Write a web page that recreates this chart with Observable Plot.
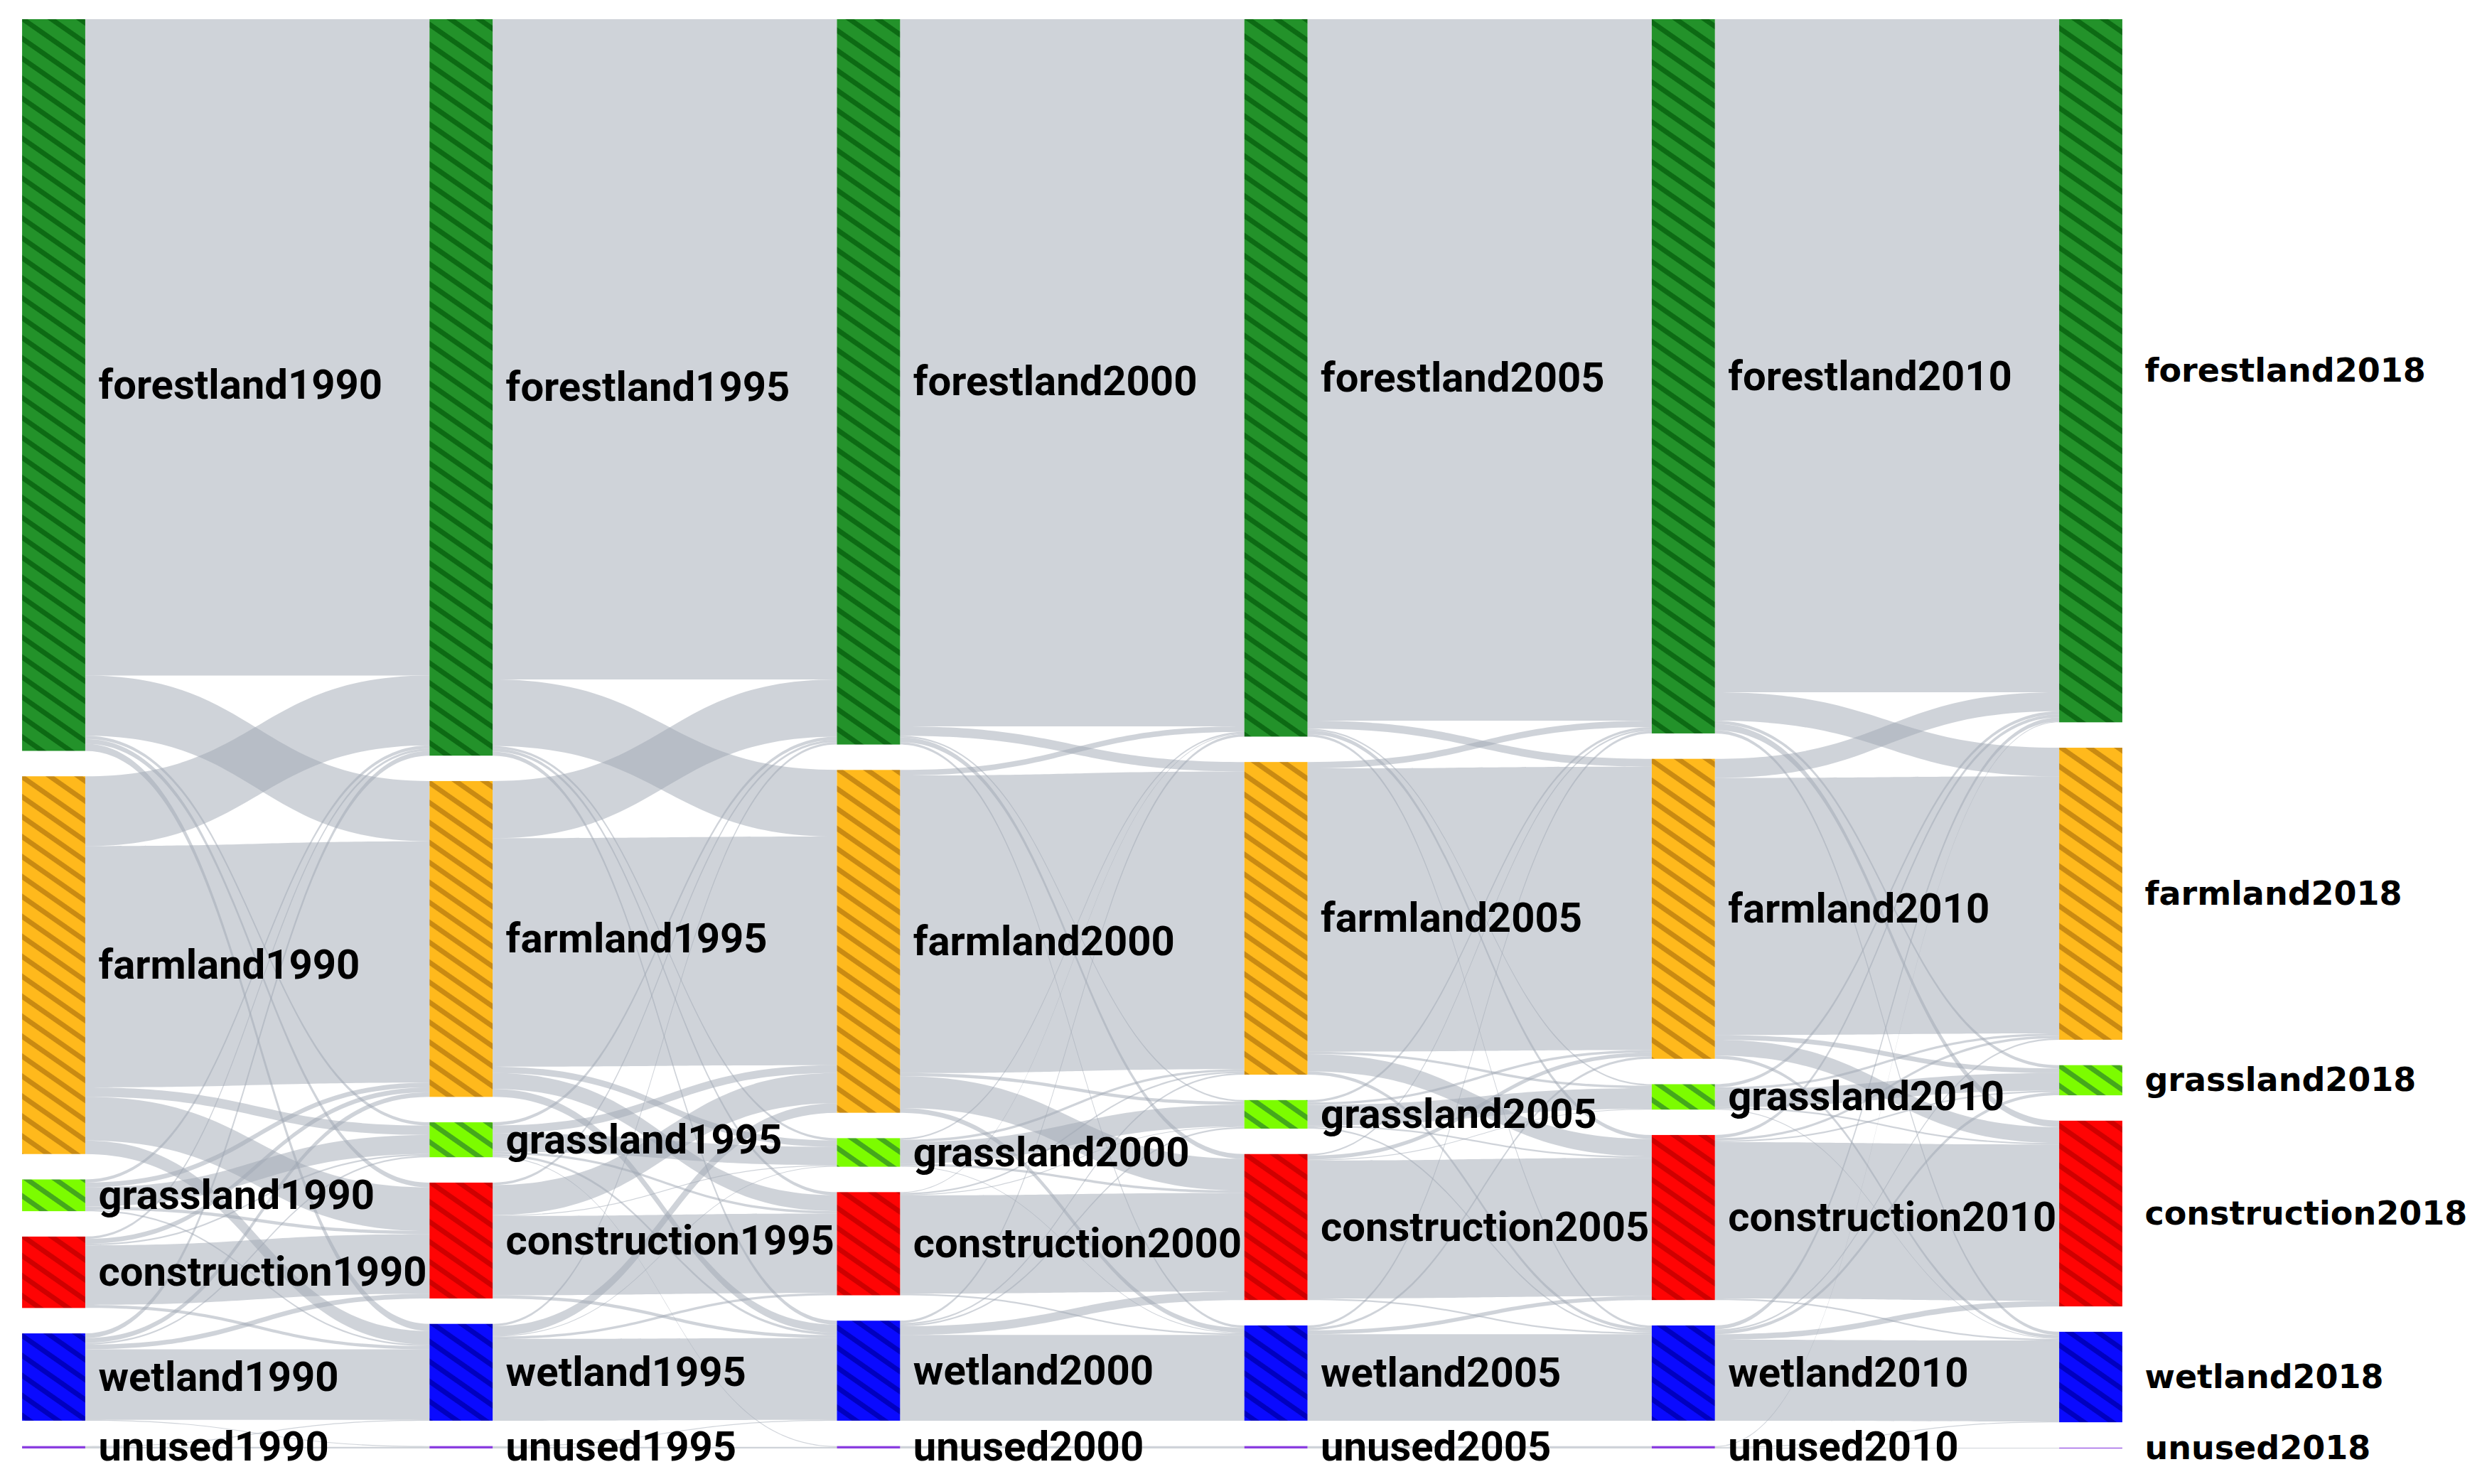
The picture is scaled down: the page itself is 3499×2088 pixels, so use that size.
<!DOCTYPE html>
<html>
<head>
<meta charset="utf-8">
<script src="https://cdn.jsdelivr.net/npm/d3@7"></script>
<script src="https://cdn.jsdelivr.net/npm/@observablehq/plot@0.6"></script>
<style>html,body{margin:0;padding:0;background:#fff;}</style>
</head>
<body>
<div id="chart"></div>
<script>
// ---- data (land-use transfer, rows = source class, columns = target class) ----
const categories = ["forestland", "farmland", "grassland", "construction", "wetland", "unused"];
const years = ["1990", "1995", "2000", "2005", "2010", "2018"];

const flows1990to1995 = [
  [4135, 380, 20, 30, 45, 0],
  [440, 1520, 60, 275, 85, 0],
  [20, 30, 120, 20, 10, 0],
  [15, 30, 10, 375, 20, 0],
  [30, 30, 10, 30, 445, 5],
  [0, 0, 0, 0, 5, 10]
];
const flows1995to2000 = [
  [4160, 420, 15, 20, 25, 0],
  [360, 1440, 40, 100, 50, 0],
  [20, 50, 115, 15, 15, 5],
  [15, 190, 5, 500, 20, 0],
  [15, 60, 5, 15, 515, 0],
  [0, 0, 0, 0, 5, 10]
];
const flows2000to2005 = [
  [4455, 60, 10, 30, 15, 0],
  [35, 1875, 20, 200, 30, 0],
  [10, 15, 135, 15, 5, 0],
  [5, 10, 5, 620, 10, 0],
  [15, 10, 10, 55, 540, 0],
  [0, 0, 0, 0, 0, 15]
];
const flows2005to2010 = [
  [4420, 50, 10, 25, 15, 0],
  [40, 1785, 15, 110, 20, 0],
  [15, 15, 130, 10, 10, 0],
  [10, 25, 5, 870, 10, 0],
  [15, 15, 0, 25, 545, 0],
  [0, 0, 0, 0, 0, 15]
];
const flows2010to2018 = [
  [4240, 180, 20, 40, 20, 0],
  [120, 1620, 30, 100, 20, 0],
  [20, 15, 110, 10, 5, 0],
  [20, 15, 10, 985, 10, 0],
  [25, 10, 20, 35, 510, 0],
  [5, 0, 0, 0, 5, 5]
];
const periods = [flows1990to1995, flows1995to2000, flows2000to2005, flows2005to2010, flows2010to2018];

const nodeColors = {
  forestland:   ["#23922a", "#0d6a14"],
  farmland:     ["#ffb91c", "#c98a12"],
  grassland:    ["#7cfc00", "#44a81c"],
  construction: ["#ff0404", "#cf0000"],
  wetland:      ["#0a0aff", "#0000bf"],
  unused:       ["#8a3ee0", "#8a3ee0"]
};

// ---- sankey layout (in value units) ----
const nodeGap = 160;
const nodeWidth = 0.155;
const nodes = [];
for (let c = 0; c < years.length; c++) {
  let y = 0;
  categories.forEach((cat, k) => {
    const out = c < periods.length ? d3.sum(periods[c][k]) : 0;
    const inn = c > 0 ? d3.sum(periods[c - 1], row => row[k]) : 0;
    const value = Math.max(out, inn);
    nodes.push({col: c, cat, k, value, y0: y, y1: y + value, label: cat + years[c]});
    y += value + nodeGap;
  });
}
const nodeAt = (c, k) => nodes[c * categories.length + k];
const totalY = d3.max(nodes, d => d.y1);

const linkPts = [];
periods.forEach((m, c) => {
  const outOff = categories.map((_, k) => nodeAt(c, k).y0);
  const inOff = categories.map((_, k) => nodeAt(c + 1, k).y0);
  m.forEach((row, s) => row.forEach((v, t) => {
    if (!v) return;
    const id = `${c}-${s}-${t}`;
    linkPts.push({id, x: c + nodeWidth / 2, ya: outOff[s], yb: outOff[s] + v});
    linkPts.push({id, x: c + 1 - nodeWidth / 2, ya: inOff[t], yb: inOff[t] + v});
    outOff[s] += v;
    inOff[t] += v;
  }));
});

const marks = [
  Plot.area(linkPts, {
    x1: "x", y1: "ya", y2: "yb", z: "id", curve: "bump-x",
    fill: "#a0a7b3", fillOpacity: 0.5
  }),
  ...categories.map(cat => Plot.rect(nodes.filter(d => d.cat === cat), {
    x1: d => d.col - nodeWidth / 2,
    x2: d => d.col + nodeWidth / 2,
    y1: "y0", y2: "y1",
    fill: cat === "unused" ? nodeColors.unused[0] : `url(#hatch-${cat})`
  })),
  Plot.text(nodes.filter(d => d.col < years.length - 1), {
    x: d => d.col + nodeWidth / 2, y: d => (d.y0 + d.y1) / 2, text: "label",
    textAnchor: "start", dx: 18, fontSize: 58, fontWeight: "bold",
    fontFamily: "Roboto", fill: "#000"
  }),
  Plot.text(nodes.filter(d => d.col === years.length - 1), {
    x: d => d.col + nodeWidth / 2, y: d => (d.y0 + d.y1) / 2, text: "label",
    textAnchor: "start", dx: 31, fontSize: 46, fontWeight: "bold",
    fontFamily: "DejaVu Sans", fill: "#000"
  })
];

const svg = Plot.plot({
  width: 3499,
  height: 2088,
  margin: 0,
  style: {background: "#fff"},
  x: {domain: [0, years.length - 1], range: [75.5, 2941.5], axis: null},
  y: {domain: [0, totalY], range: [27, 2038], axis: null},
  marks
});

const defs = d3.select(svg).insert("defs", ":first-child");
for (const cat of categories) {
  const [base, stripe] = nodeColors[cat];
  const p = defs.append("pattern")
    .attr("id", `hatch-${cat}`)
    .attr("patternUnits", "userSpaceOnUse")
    .attr("width", 23).attr("height", 23)
    .attr("patternTransform", "rotate(35)");
  p.append("rect").attr("width", 23).attr("height", 23).attr("fill", base);
  p.append("rect").attr("width", 23).attr("height", 7).attr("fill", stripe);
}

document.getElementById("chart").appendChild(svg);
</script>
</body>
</html>
